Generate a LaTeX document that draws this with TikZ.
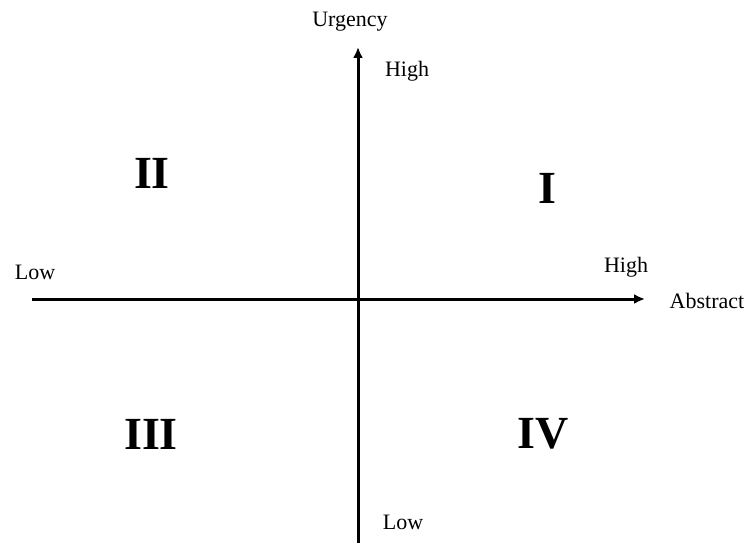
\documentclass[tikz,border=0pt]{standalone}
\usepackage{fontspec}
\setmainfont{Liberation Serif}
\usetikzlibrary{arrows.meta,positioning}

\begin{document}
\begin{tikzpicture}[x=1pt, y=-1pt,
  axis/.style={line width=3pt, -{Latex[length=11pt,width=10pt]}},
  lbl/.style={font=\fontsize{22}{26}\selectfont, inner sep=0pt, anchor=base},
  quad/.style={font=\fontsize{46}{50}\selectfont\bfseries, inner sep=0pt}]
  \useasboundingbox (0,0) rectangle (745,543);
  % axes
  \coordinate (xl) at (32,299);
  \coordinate (xr) at (645,299);
  \coordinate (yb) at (358,543);
  \coordinate (yt) at (358,47);
  \draw[axis] (xl) -- (xr);
  \draw[axis] (yb) -- (yt);
  % axis labels
  \node[lbl] (urg) at (350,27) {Urgency};
  \node[lbl] (yhigh) at (407,77) {High};
  \node[lbl] (ylow) at (403,529) {Low};
  \node[lbl] (xlow) at (35,279) {Low};
  \node[lbl] (xhigh) at (626,272) {High};
  \node[lbl] (abs) at (707,308) {Abstract};
  % quadrants
  \node[quad] (q1) at (547,188) {I};
  \node[quad] (q2) at (152,173) {II};
  \node[quad] (q3) at (151,434) {III};
  \node[quad] (q4) at (543,434) {IV};
\end{tikzpicture}
\end{document}
